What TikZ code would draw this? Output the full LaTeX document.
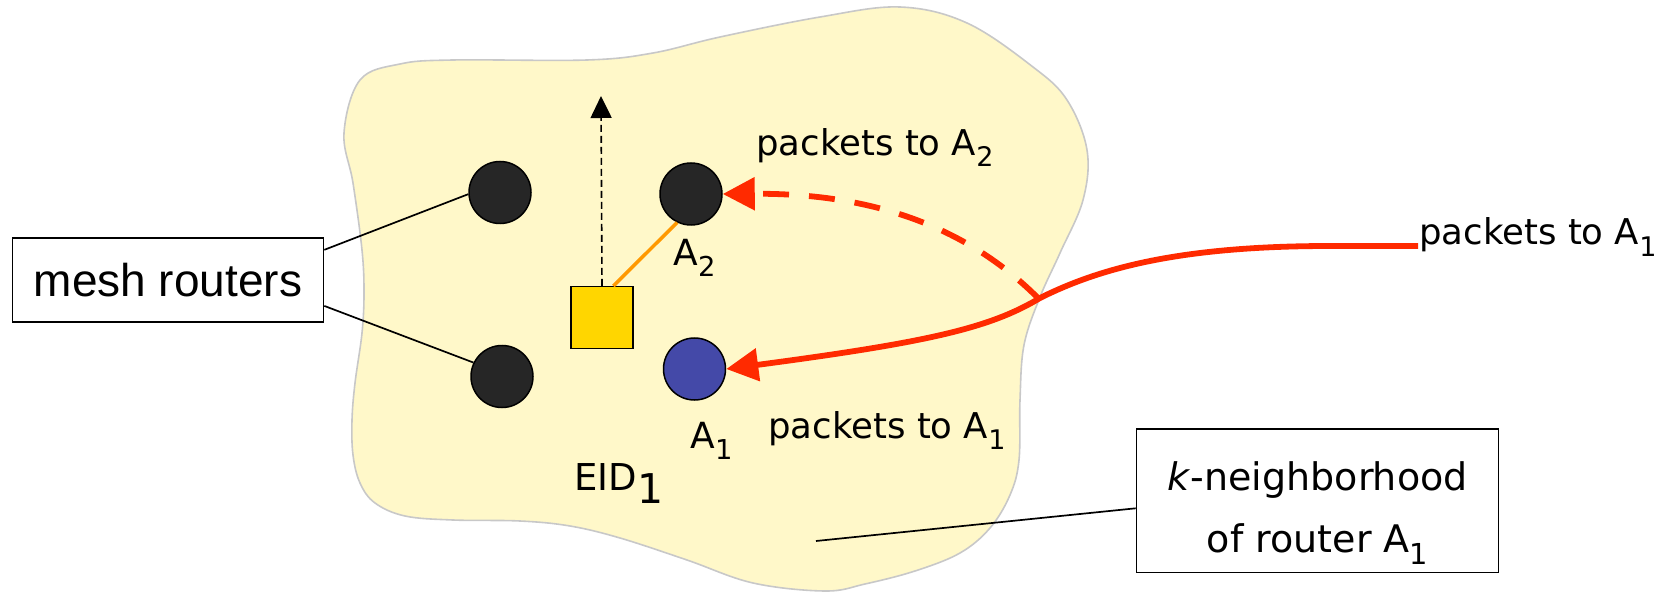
\documentclass[tikz,border=0pt]{standalone}
\usepackage{fontspec}
\usepackage{graphicx}
\setmainfont{DejaVu Sans}
\newfontfamily\arialfont{Liberation Sans}
\usetikzlibrary{arrows.meta,calc}

\definecolor{blobfill}{RGB}{255,248,201}
\definecolor{blobline}{RGB}{200,200,200}
\definecolor{routerdark}{RGB}{38,38,38}
\definecolor{routerblue}{RGB}{68,73,168}
\definecolor{gwyellow}{RGB}{255,214,0}
\definecolor{linkorange}{RGB}{255,153,0}
\definecolor{flowred}{RGB}{255,42,0}

% lowered index digit
\newcommand{\idx}[1]{\raisebox{-0.31em}{\scalebox{0.76}{#1}}}

\begin{document}
\begin{tikzpicture}[x=0.5pt,y=-0.5pt,
  router/.style={circle,draw=black,line width=0.75pt,minimum size=31pt,inner sep=0pt},
  gateway/.style={rectangle,draw=black,line width=0.75pt,fill=gwyellow,minimum size=30.8pt,inner sep=0pt},
  callout/.style={rectangle,draw=black,line width=0.8pt,fill=white,inner sep=0pt},
  tag/.style={font=\fontsize{17.75pt}{20pt}\selectfont,inner sep=0pt,anchor=base west},
  nodetag/.style={font=\fontsize{18pt}{21pt}\selectfont,inner sep=0pt,anchor=base west},
  pointer/.style={draw=black,line width=0.85pt},
  redflow/.style={draw=flowred,line width=2.9pt,-{Triangle[length=16pt,width=16pt]}},
]
\useasboundingbox (0,0) rectangle (1659,593);

% neighbourhood region
\draw[fill=blobfill,draw=blobline,line width=0.8pt]
  plot[smooth cycle,tension=0.6] coordinates {
  (344,133) (360,80) (400,64) (453,60) (587,60) (653,53) (720,37) (820,17)
  (900,7) (967,23) (1033,67) (1067,100) (1087,150) (1083,200) (1060,253)
  (1040,297) (1024,345) (1020,400) (1019,460) (1010,495) (990,528) (960,553)
  (915,571) (865,584) (825,591) (753,583) (687,560) (620,538) (570,526)
  (520,521) (453,520) (405,516) (375,503) (360,483) (353,455) (352,420)
  (355,383) (362,333) (364,293) (362,250) (353,183)};

% routers and gateway
\node[router,fill=routerdark] (L1) at (500,192.5) {};
\node[router,fill=routerdark] (L2) at (502,376.5) {};
\node[router,fill=routerdark] (A2) at (691,194) {};
\node[router,fill=routerblue] (A1) at (694.5,369) {};
\node[gateway] (gw) at (602,317.5) {};

% callout boxes
\node[callout,minimum width=155.5pt,minimum height=42pt,
      font=\arialfont\fontsize{23pt}{27pt}\selectfont] (mesh) at (168,279.8) {mesh routers};
\node[callout,minimum width=181pt,minimum height=71.75pt,align=center,
      font=\fontsize{19pt}{31pt}\selectfont] (kbox) at (1317.5,500.8)
  {\rule{0pt}{26.4pt}\textit{k}-neighborhood\\of router A\idx{1}};

% labels
\node[tag] (lblA2) at (756,155.5) {packets to A\idx{2}};
\node[tag] (lblA1r) at (1419,245) {packets to A\idx{1}};
\node[tag] (lblA1) at (768,438) {packets to A\idx{1}};
\node[nodetag] (nA2) at (673,265) {A\idx{2}};
\node[nodetag] (nA1) at (690,448) {A\idx{1}};
\node[nodetag,font=\fontsize{18.5pt}{21pt}\selectfont] (eid) at (574,490)
  {EID\raisebox{-6.5pt}{\fontsize{20.5pt}{22pt}\selectfont 1}};

% callout pointers
\coordinate (kend) at (816,541);
\draw[pointer] ($(mesh.north east)!0.15!(mesh.south east)$) -- (L1.183);
\draw[pointer] ($(mesh.north east)!0.805!(mesh.south east)$) -- (L2.154);
\draw[pointer] ($(kbox.west)+(0,7.5)$) -- (kend);

% gateway links
\coordinate (gwup) at (601,96);
\draw[draw=black,line width=0.8pt,dash pattern=on 3.5pt off 2pt,
      -{Triangle[length=11pt,width=10.5pt]}] (gw.north) -- (gwup);
\draw[draw=linkorange,line width=1.75pt] ($(gw.north west)!0.68!(gw.north east)$) -- (A2.244);

% packet flows
\coordinate (srcA1) at (1418,246);
\coordinate (srcA2) at (1038,298);
\draw[redflow] (srcA1) -- (1330,246)
  .. controls (1180,246) and (1100,268) .. (1040,298)
  .. controls (990,328) and (930,342) .. (A1.east);
\draw[redflow,dash pattern=on 13pt off 10pt] (srcA2)
  .. controls (960,220) and (860,193) .. (A2.east);
\end{tikzpicture}
\end{document}
